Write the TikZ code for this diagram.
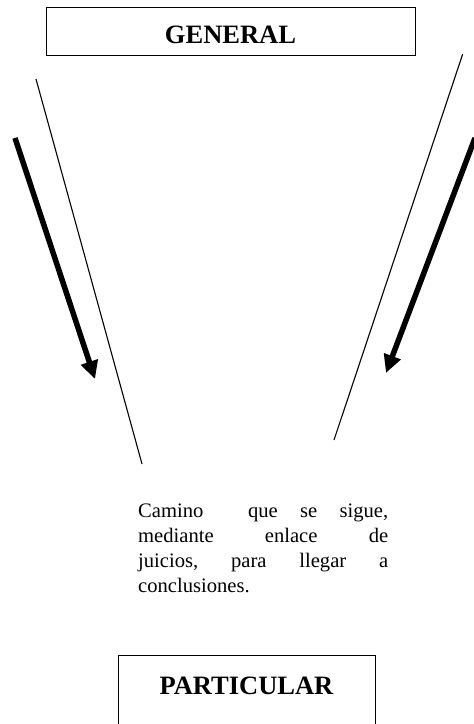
\documentclass[tikz,border=0pt]{standalone}
\usepackage{fontspec}
\setmainfont{Liberation Serif}
\usetikzlibrary{arrows.meta}
\begin{document}
\begin{tikzpicture}[x=1pt,y=1pt,
  titlebox/.style={draw, line width=1pt, inner sep=0pt, font=\fontsize{26.5}{30}\selectfont\bfseries},
  thinline/.style={line width=1.1pt},
  thickarrow/.style={line width=5.5pt, -{Triangle[length=18pt,width=17pt]}},
  bodytext/.style={inner sep=0pt, anchor=north west, font=\fontsize{20.6}{25}\selectfont}
]
\useasboundingbox (0,0) rectangle (474,724);
% boxes
\node[titlebox, minimum width=369pt, text height=36pt, text depth=12pt, anchor=north] (general) at (230.5,717) {GENERAL};
\node[titlebox, minimum width=257pt, text height=39pt, text depth=40pt, anchor=north] (particular) at (246.5,69) {PARTICULAR};
% thin lines
\coordinate (lt1) at (36,645);
\coordinate (lt2) at (142,260);
\coordinate (rt1) at (462.7,670);
\coordinate (rt2) at (334,284);
\draw[thinline] (lt1) -- (lt2);
\draw[thinline] (rt1) -- (rt2);
% thick arrows
\coordinate (la1) at (15,586);
\coordinate (la2) at (95,345);
\coordinate (ra1) at (475,586);
\coordinate (ra2) at (386,351);
\draw[thickarrow] (la1) -- (la2);
\draw[thickarrow] (ra1) -- (ra2);
% text
\node[bodytext] (desc) at (138,220.5) {\vbox{\baselineskip=25pt
\hbox to 250pt{Camino\hfill\hfill que\hfill se\hfill sigue,}
\hbox to 250pt{mediante\hfill enlace\hfill de}
\hbox to 250pt{juicios,\hfill para\hfill llegar\hfill a}
\hbox{conclusiones.}}};
\end{tikzpicture}
\end{document}
